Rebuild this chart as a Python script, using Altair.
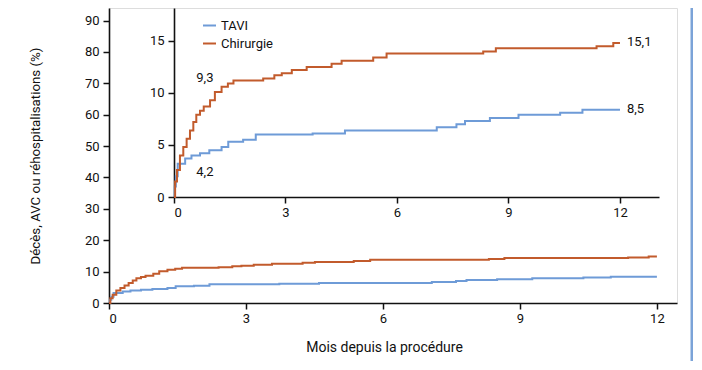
import altair as alt
import pandas as pd

# ---- data ----
groups = ["TAVI", "Chirurgie"]
colors = ["#6e9bd7", "#c25b2c"]

tavi_months = [0, 0.02, 0.05, 0.1, 0.3, 0.47, 0.7, 0.95, 1.28, 1.46, 1.86, 2.2,
               3.73, 4.6, 7.07, 7.6, 7.83, 8.5, 9.27, 10.39, 10.99, 12.0]
tavi_values = [0, 1.0, 2.0, 3.2, 3.7, 4.0, 4.2, 4.5, 4.8, 5.3, 5.5, 6.0,
               6.1, 6.4, 6.7, 7.0, 7.3, 7.6, 7.9, 8.1, 8.4, 8.4]

chir_months = [0, 0.03, 0.08, 0.16, 0.25, 0.34, 0.43, 0.52, 0.6, 0.7, 0.8, 0.97,
               1.1, 1.28, 1.45, 1.6, 2.4, 2.7, 2.9, 3.17, 3.57, 4.24, 4.51, 5.36,
               5.72, 8.32, 8.66, 11.37, 11.82, 12.0]
chir_values = [0, 1.5, 2.6, 4.0, 4.8, 5.6, 6.4, 7.2, 7.9, 8.3, 8.7, 9.3,
               10.1, 10.6, 10.9, 11.2, 11.4, 11.7, 11.9, 12.2, 12.5, 12.8, 13.1, 13.4,
               13.8, 14.0, 14.3, 14.5, 14.8, 14.8]

x_ticks = [0, 3, 6, 9, 12]
main_y_ticks = [0, 10, 20, 30, 40, 50, 60, 70, 80, 90]
inset_y_ticks = [0, 5, 10, 15]

label_texts = ["9,3", "4,2", "15,1", "8,5"]
label_months = [0.83, 0.83, 12.0, 12.0]
label_values = [11.4, 2.4, 14.9, 8.5]
label_align = ["center", "center", "left", "left"]

FONT = "Roboto"

df = pd.concat([
    pd.DataFrame({"mois": tavi_months, "valeur": tavi_values, "groupe": "TAVI"}),
    pd.DataFrame({"mois": chir_months, "valeur": chir_values, "groupe": "Chirurgie"}),
], ignore_index=True)

labels_df = pd.DataFrame({"mois": label_months, "valeur": label_values,
                          "texte": label_texts, "align": label_align})

color = alt.Color(
    "groupe:N",
    scale=alt.Scale(domain=groups, range=colors),
    legend=alt.Legend(orient="none", legendX=93, legendY=10, title=None,
                      symbolType="stroke", symbolStrokeWidth=2, symbolSize=169,
                      labelFontSize=13, labelFont=FONT, labelColor="#111",
                      rowPadding=3, padding=0, labelOffset=4),
)

axis_common = dict(domainColor="#111", tickColor="#111", domainWidth=1.6,
                   tickWidth=1.5, labelFont=FONT, labelFontSize=13,
                   labelColor="#111", titleFont=FONT,
                   titleFontWeight="normal", titleColor="#111", grid=False,
                   tickSize=6)

main = alt.Chart(df).mark_line(interpolate="step-after", strokeWidth=2).encode(
    x=alt.X("mois:Q",
            scale=alt.Scale(domain=[0, 12.44], nice=False, zero=False),
            axis=alt.Axis(values=x_ticks, title="Mois depuis la procédure",
                          orient="bottom", labelPadding=3, titlePadding=15,
                          titleFontSize=14, titleX=275, **axis_common)),
    y=alt.Y("valeur:Q",
            scale=alt.Scale(domain=[0, 94], nice=False),
            axis=alt.Axis(values=main_y_ticks,
                          title="Décès, AVC ou réhospitalisations (%)",
                          orient="left", labelPadding=4, titlePadding=42,
                          titleFontSize=13.3, **axis_common)),
    color=color,
)

inset_x = alt.X("mois:Q",
                scale=alt.Scale(domain=[0, 13.05], range=[65, 550], nice=False, zero=False),
                axis=alt.Axis(values=x_ticks, title=None, orient="bottom",
                              offset=-106, labelPadding=3, **axis_common))
inset_y = alt.Y("valeur:Q",
                scale=alt.Scale(domain=[0, 18.17], range=[189, 0], nice=False),
                axis=alt.Axis(values=inset_y_ticks, title=None, orient="left",
                              offset=-65, labelPadding=4, **axis_common))

inset_lines = alt.Chart(df).mark_line(interpolate="step-after", strokeWidth=2).encode(
    x=inset_x, y=inset_y, color=color)

inset_text_c = alt.Chart(labels_df).transform_filter(
    alt.datum.align == "center").mark_text(
    font=FONT, fontSize=13, color="#111", align="center", baseline="middle").encode(
    x=alt.X("mois:Q"), y=alt.Y("valeur:Q"), text="texte:N")

inset_text_l = alt.Chart(labels_df).transform_filter(
    alt.datum.align == "left").mark_text(
    font=FONT, fontSize=13, color="#111", align="left", baseline="middle", dx=7).encode(
    x=alt.X("mois:Q"), y=alt.Y("valeur:Q"), text="texte:N")

inset = alt.layer(inset_lines, inset_text_c, inset_text_l)

border = alt.Chart(pd.DataFrame({"a": [0]})).mark_rule(
    color="#7ba3d8", strokeWidth=3).encode(
    x=alt.value(583), y=alt.value(0), y2=alt.value(354))

chart = alt.layer(main, inset, border).resolve_scale(
    x="independent", y="independent"
).properties(
    width=568, height=295,
    padding={"left": 101, "top": 0, "right": 16, "bottom": 58},
    autosize=alt.AutoSizeParams(type="none"),
).configure_view(stroke=None).configure(background="white")

chart.save("out.html", embed_options={"renderer": "svg", "actions": False})
